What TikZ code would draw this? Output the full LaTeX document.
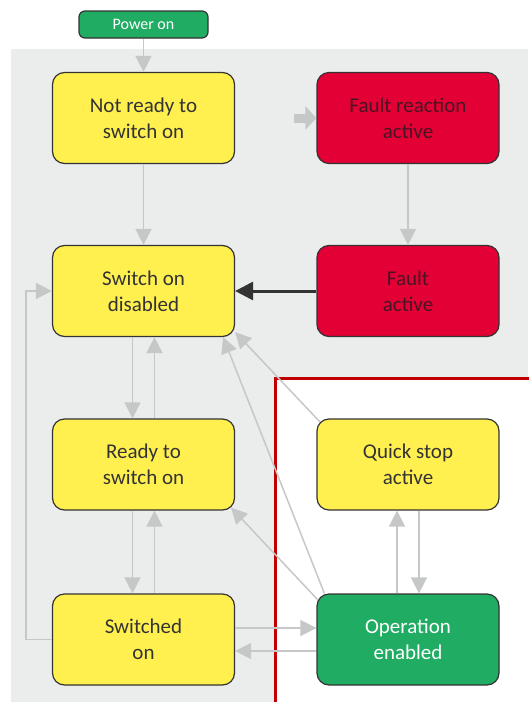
\documentclass[tikz,border=0pt]{standalone}
\usepackage{fontspec}
\setmainfont{Carlito}
\usetikzlibrary{arrows.meta,calc}
\definecolor{StateYellow}{HTML}{FFF050}
\definecolor{FaultRed}{HTML}{E30034}
\definecolor{RunGreen}{HTML}{20AD63}
\definecolor{PanelGray}{HTML}{EBEDED}
\definecolor{FlowGray}{HTML}{C6C7C7}
\definecolor{EdgeDark}{HTML}{333333}
\definecolor{FaultText}{HTML}{4A1424}
\definecolor{BorderRed}{HTML}{C00000}

\begin{document}
\begin{tikzpicture}[x=1pt,y=-1pt,
  state/.style={rectangle,rounded corners=12pt,draw=EdgeDark,line width=1.2pt,
    minimum width=182pt,minimum height=91pt,inner sep=0pt,align=center,
    font=\fontsize{21}{26}\selectfont,text=EdgeDark,fill=StateYellow},
  faultstate/.style={state,fill=FaultRed,text=FaultText},
  runstate/.style={state,fill=RunGreen,text=white},
  flow/.style={-{Triangle[length=16pt,width=16pt]},FlowGray,line width=1.5pt},
  stub/.style={-{Triangle[length=11pt,width=23pt]},FlowGray,line width=9pt},
  faultflow/.style={-{Triangle[length=18pt,width=18pt]},EdgeDark,line width=3pt}]
  \useasboundingbox (0,0) rectangle (528,702);
  % panels: gray device area, red-framed operation area
  \fill[PanelGray] (11,49) rectangle (528,702);
  \fill[white] (275,378) rectangle (530,704);
  \draw[BorderRed,line width=3pt] (275,704) -- (275,378) -- (530,378);
  % states
  \node[rectangle,rounded corners=6pt,draw=EdgeDark,line width=1.2pt,fill=RunGreen,
    text=white,minimum width=129pt,minimum height=27pt,inner sep=0pt,
    font=\fontsize{16}{18}\selectfont] (power) at (143.5,24.5) {Power on};
  \node[state] (notReady) at (143.5,118) {Not ready to\\switch on};
  \node[faultstate] (faultReact) at (408,118) {Fault reaction\\active};
  \node[state] (swDisabled) at (143.5,291) {Switch on\\disabled};
  \node[faultstate] (fault) at (408,291) {Fault\\active};
  \node[state] (ready) at (143.5,464.5) {Ready to\\switch on};
  \node[state] (quickStop) at (408,464.5) {Quick stop\\active};
  \node[state] (switchedOn) at (143.5,639.5) {Switched\\on};
  \node[runstate] (opEnabled) at (408,639.5) {Operation\\enabled};
  \coordinate (faultStub) at (294,118);
  % transitions
  \draw[flow] (power) -- (notReady);
  \draw[flow] (notReady) -- (swDisabled);
  \draw[flow] (faultReact) -- (fault);
  \draw[stub] (faultStub) -- (faultReact.west);
  \draw[faultflow] (fault) -- (swDisabled);
  \draw[flow] ([xshift=-11pt]swDisabled.south) -- ([xshift=-11pt]ready.north);
  \draw[flow] ([xshift=11pt]ready.north) -- ([xshift=11pt]swDisabled.south);
  \draw[flow] ([xshift=-11pt]ready.south) -- ([xshift=-11pt]switchedOn.north);
  \draw[flow] ([xshift=11pt]switchedOn.north) -- ([xshift=11pt]ready.south);
  \draw[flow] ([xshift=-11pt]opEnabled.north) -- ([xshift=-11pt]quickStop.south);
  \draw[flow] ([xshift=11pt]quickStop.south) -- ([xshift=11pt]opEnabled.north);
  \draw[flow] ([yshift=11.5pt]switchedOn.east) -- ([yshift=11.5pt]opEnabled.west);
  \draw[flow] ([yshift=-11.5pt]opEnabled.west) -- ([yshift=-11.5pt]switchedOn.east);
  \draw[flow] (switchedOn.west) -- ++(-26,0) |- (swDisabled.west);
  \draw[flow] ($(opEnabled.north west)+(8,0)$) -- ($(swDisabled.south east)+(-12,0)$);
  \draw[flow] ($(quickStop.north west)+(3.5,3.5)$) -- ($(swDisabled.south east)+(0,-5)$);
  \draw[flow] ($(opEnabled.north west)+(1,6)$) -- ($(ready.south east)+(-4,-3)$);
\end{tikzpicture}
\end{document}
